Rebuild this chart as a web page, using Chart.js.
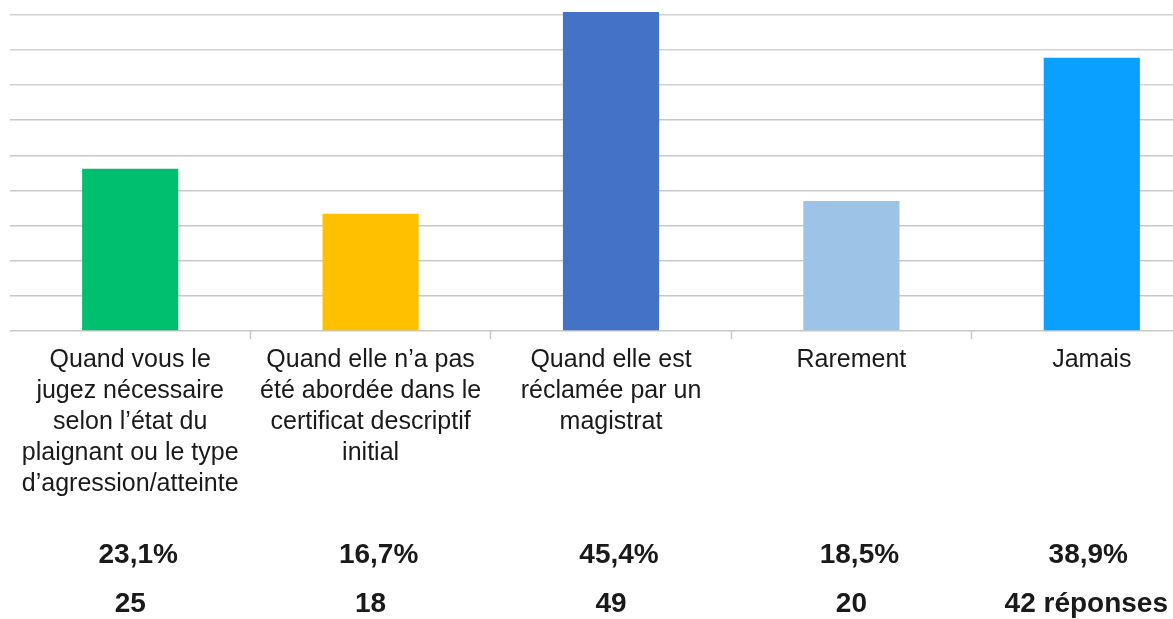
<!DOCTYPE html>
<html lang="fr">
<head>
    <meta charset="UTF-8">
    <title>Réponses</title>
    <style>
        html, body {
            margin: 0;
            padding: 0;
            background: #fff;
            overflow: hidden;
        }
        .wrap {
            width: 1215px;
            height: 619px;
        }
    </style>
</head>
<body>
    <div class="wrap"><canvas id="chart"></canvas></div>

    <script src="https://cdn.jsdelivr.net/npm/chart.js"></script>
    <script>
        // categories (one array per wrapped label)
        const categories = [
            ['Quand vous le', 'jugez nécessaire', 'selon l\u2019état du', 'plaignant ou le type', 'd\u2019agression/atteinte'],
            ['Quand elle n\u2019a pas', 'été abordée dans le', 'certificat descriptif', 'initial'],
            ['Quand elle est', 'réclamée par un', 'magistrat'],
            ['Rarement'],
            ['Jamais']
        ];
        const percents = [23.1, 16.7, 45.4, 18.5, 38.9];
        const percentLabels = ['23,1%', '16,7%', '45,4%', '18,5%', '38,9%'];
        const counts = [25, 18, 49, 20, 42];
        const countLabels = ['25', '18', '49', '20', '42 réponses'];
        const barColors = ['#00bf6f', '#ffc000', '#4472c4', '#9dc3e6', '#0aa0ff'];
        const gridSteps = [0, 5, 10, 15, 20, 25, 30, 35, 40, 45];

        const textColor = '#1a1a1a';
        const fontFamily = '"Liberation Sans", Arial, sans-serif';

        // percentage and count rows under each category
        const totalsRows = {
            id: 'totalsRows',
            afterDraw(chart) {
                const { ctx, chartArea, scales } = chart;
                ctx.save();
                ctx.fillStyle = textColor;
                ctx.textAlign = 'center';
                ctx.textBaseline = 'middle';
                ctx.font = 'bold 28px ' + fontFamily;
                // [texts, offset below axis, x shift, right limit]
                const rows = [[percentLabels, 224, 8, 1128], [countLabels, 273, 0, 1168]];
                rows.forEach(([texts, dy, dx, rightEdge]) => {
                    texts.forEach((t, i) => {
                        const w = ctx.measureText(t).width;
                        const x = Math.min(scales.x.getPixelForValue(i) + dx, rightEdge - w / 2);
                        ctx.fillText(t, x, chartArea.bottom + dy);
                    });
                });
                ctx.restore();
            }
        };

        new Chart(document.getElementById('chart'), {
            type: 'bar',
            data: {
                labels: categories,
                datasets: [{
                    data: percents,
                    backgroundColor: barColors,
                    borderWidth: 0,
                    barPercentage: 0.4,
                    categoryPercentage: 1.0
                }]
            },
            options: {
                responsive: true,
                maintainAspectRatio: false,
                animation: false,
                layout: { padding: { left: 10, top: 12, right: 3, bottom: 0 } },
                plugins: {
                    legend: { display: false },
                    tooltip: { enabled: false }
                },
                scales: {
                    x: {
                        grid: {
                            offset: true,
                            drawOnChartArea: false,
                            drawTicks: true,
                            tickLength: 8,
                            tickWidth: 1.5,
                            tickColor: ctx => (ctx.index === 0 || ctx.index === categories.length) ? 'rgba(0,0,0,0)' : '#c8c8c8'
                        },
                        border: { display: false },
                        ticks: {
                            color: textColor,
                            font: { family: fontFamily, size: 25, lineHeight: 1.24 },
                            padding: 6,
                            maxRotation: 0,
                            autoSkip: false
                        },
                        afterFit(axis) {
                            axis.height = 288;
                        }
                    },
                    y: {
                        min: 0,
                        max: 45.4,
                        afterBuildTicks(axis) {
                            axis.ticks = gridSteps.map(v => ({ value: v }));
                        },
                        grid: {
                            drawTicks: false,
                            lineWidth: 1.5,
                            color: ctx => (ctx.tick && ctx.tick.value >= 35) ? '#d2d2d2' : '#c8c8c8'
                        },
                        border: { display: false },
                        ticks: { display: false }
                    }
                }
            },
            plugins: [totalsRows]
        });
    </script>
</body>
</html>
